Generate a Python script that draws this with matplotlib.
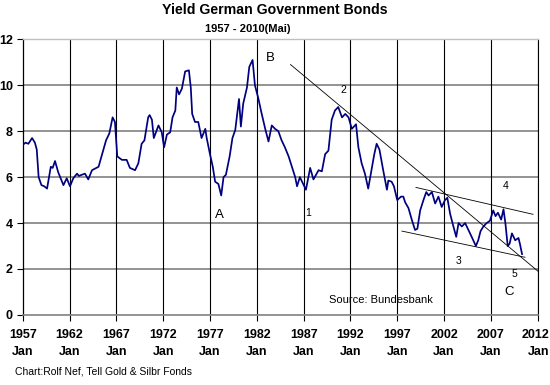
import matplotlib
matplotlib.use("Agg")
import matplotlib.pyplot as plt

plt.rcParams['font.family'] = ['Liberation Sans', 'DejaVu Sans']

# ---- data (decimal years, yield %) ----
years = [1957.0, 1957.3, 1957.6, 1958.0, 1958.3, 1958.5, 1958.7, 1959.0, 1959.3, 1959.6,
         1960.0, 1960.2, 1960.45, 1960.8, 1961.1, 1961.35, 1961.7, 1962.05, 1962.4, 1962.8,
         1963.0, 1963.3, 1963.65, 1964.0, 1964.4, 1965.1, 1965.45, 1965.9, 1966.25, 1966.6,
         1966.85, 1967.1, 1967.6, 1968.1, 1968.45, 1969.0, 1969.35, 1969.7, 1970.0, 1970.4,
         1970.55, 1970.8, 1971.0, 1971.5, 1971.85, 1972.1, 1972.4, 1972.75, 1973.0, 1973.3,
         1973.45, 1973.7, 1974.0, 1974.35, 1974.75, 1974.95, 1975.1, 1975.4, 1975.75, 1976.1,
         1976.5, 1976.65, 1977.0, 1977.3, 1977.55, 1977.9, 1978.2, 1978.45, 1978.7, 1979.1,
         1979.4, 1979.7, 1979.95, 1980.1, 1980.3, 1980.55, 1980.95, 1981.2, 1981.55, 1981.8,
         1982.15, 1982.5, 1982.9, 1983.25, 1983.6, 1983.95, 1984.3, 1984.65, 1985.0, 1985.4,
         1985.75, 1986.1, 1986.3, 1986.6, 1986.95, 1987.25, 1987.7, 1988.05, 1988.6, 1988.95,
         1989.3, 1989.65, 1990.0, 1990.35, 1990.7, 1991.1, 1991.45, 1991.8, 1992.15, 1992.6,
         1992.85, 1993.2, 1993.55, 1993.9, 1994.2, 1994.55, 1994.8, 1995.1, 1995.5, 1995.9,
         1996.05, 1996.4, 1996.65, 1997.0, 1997.4, 1997.65, 1997.85, 1998.2, 1998.55, 1998.9,
         1999.15, 1999.45, 1999.8, 2000.1, 2000.35, 2000.7, 2001.05, 2001.4, 2001.75, 2002.1,
         2002.35, 2002.65, 2003.0, 2003.3, 2003.55, 2003.9, 2004.25, 2004.6, 2004.95, 2005.4,
         2005.65, 2005.9, 2006.2, 2006.55, 2006.9, 2007.25, 2007.5, 2007.75, 2008.1, 2008.35,
         2008.55, 2008.8, 2009.0, 2009.25, 2009.6, 2009.95, 2010.1, 2010.33]
yields = [7.4, 7.5, 7.45, 7.7, 7.5, 7.2, 6.0, 5.65, 5.6, 5.5,
          6.45, 6.4, 6.7, 6.2, 5.9, 5.65, 5.95, 5.6, 5.95, 6.15,
          6.05, 6.1, 6.15, 5.9, 6.3, 6.45, 6.95, 7.6, 7.9, 8.6,
          8.4, 6.9, 6.75, 6.75, 6.4, 6.3, 6.6, 7.45, 7.6, 8.6,
          8.7, 8.5, 7.7, 8.25, 7.95, 7.3, 7.85, 7.95, 8.6, 8.9,
          9.9, 9.6, 9.85, 10.6, 10.65, 9.9, 8.75, 8.4, 8.4, 7.7,
          8.1, 7.7, 7.0, 6.45, 5.8, 5.7, 5.2, 6.0, 6.1, 6.9,
          7.7, 8.05, 8.9, 9.4, 8.2, 9.2, 9.9, 10.8, 11.1, 10.0,
          9.45, 8.8, 8.1, 7.55, 8.25, 8.1, 8.0, 7.6, 7.3, 6.9,
          6.45, 6.0, 5.6, 6.0, 5.7, 5.45, 6.4, 5.9, 6.3, 6.25,
          7.0, 7.15, 8.5, 8.9, 9.05, 8.6, 8.75, 8.6, 8.1, 8.3,
          7.3, 6.6, 6.15, 5.5, 6.2, 7.0, 7.45, 7.2, 6.3, 5.45,
          5.85, 5.8, 5.6, 5.0, 5.15, 5.15, 4.9, 4.65, 4.15, 3.7,
          3.75, 4.55, 5.0, 5.35, 5.2, 5.35, 4.85, 5.15, 4.7, 5.0,
          5.1, 4.4, 3.85, 3.4, 4.0, 3.85, 4.0, 3.7, 3.4, 3.0,
          3.25, 3.65, 3.85, 4.0, 4.1, 4.55, 4.3, 4.45, 4.15, 4.6,
          4.0, 3.0, 3.1, 3.55, 3.25, 3.35, 3.1, 2.65]

# trend lines (start/end in years and yield)
trend_main_x = [1985.6, 2012.1]
trend_main_y = [10.9, 1.88]
trend_upper_x = [1999.0, 2011.5]
trend_upper_y = [5.55, 4.38]
trend_lower_x = [1997.5, 2010.65]
trend_lower_y = [3.65, 2.51]

tick_years = list(range(1957, 2013, 5))
tick_labels = [f"{y}\nJan" for y in tick_years]
y_ticks = [0, 2, 4, 6, 8, 10, 12]

fig = plt.figure(figsize=(5.5, 3.85), dpi=100)
ax = fig.add_axes([0.0413, 0.182, 0.9363, 0.716])

ax.set_xlim(1957, 2012)
ax.set_ylim(0, 12)

# grid
for yv in y_ticks[1:]:
    ax.axhline(yv, color='#808080', lw=1.2, zorder=1)
for xv in tick_years[1:]:
    ax.axvline(xv, color='#000000', lw=0.8, zorder=1)

ax.plot(years, yields, color='#000080', lw=1.25, zorder=3)

for tx, ty in [(trend_main_x, trend_main_y), (trend_upper_x, trend_upper_y),
               (trend_lower_x, trend_lower_y)]:
    ax.plot(tx, ty, color='#000000', lw=0.6, zorder=4)

ax.spines['left'].set_color('#000000')
ax.spines['left'].set_linewidth(0.9)
ax.spines['bottom'].set_color('#808080')
ax.spines['bottom'].set_linewidth(1.2)
ax.spines['top'].set_color('#c0c0c0')
ax.spines['top'].set_linewidth(1.0)
ax.spines['right'].set_color('#000000')
ax.spines['right'].set_linewidth(0.8)

ax.set_xticks(tick_years)
ax.set_xticklabels(tick_labels[:-1] + [''], fontsize=9, fontweight='bold',
                   linespacing=1.6)
# last tick label placed so it stays inside the figure
ax.annotate(tick_labels[-1], xy=(tick_years[-1], 0), xycoords='data',
            xytext=(0.998, -10.0), textcoords=('figure fraction', 'offset points'),
            fontsize=9, fontweight='bold', linespacing=1.6, ha='right', va='top',
            annotation_clip=False)
ax.set_yticks(y_ticks)
ax.set_yticklabels([str(v) for v in y_ticks], fontsize=9, fontweight='bold')
ax.tick_params(axis='both', direction='out', length=4, width=0.8, color='#000000')
ax.tick_params(axis='x', pad=6)
ax.tick_params(axis='y', pad=3)

# annotations
ax.text(1983.45, 11.2, 'B', fontsize=9.5, ha='center', va='center')
ax.text(1978.0, 4.35, 'A', fontsize=9.5, ha='center', va='center')
ax.text(1987.5, 4.43, '1', fontsize=7.5, ha='center', va='center')
ax.text(1991.25, 9.78, '2', fontsize=7.5, ha='center', va='center')
ax.text(2003.6, 2.36, '3', fontsize=7.5, ha='center', va='center')
ax.text(2008.6, 5.62, '4', fontsize=7.5, ha='center', va='center')
ax.text(2009.5, 1.77, '5', fontsize=7.5, ha='center', va='center')
ax.text(2009.0, 1.01, 'C', fontsize=9.5, ha='center', va='center')
ax.text(1989.7, 0.65, 'Source: Bundesbank', fontsize=8, ha='left', va='center')

fig.text(0.5, 0.973, 'Yield German Government Bonds', fontsize=10.2,
         fontweight='bold', ha='center', va='center')
fig.text(0.450, 0.925, '1957 - 2010(Mai)', fontsize=8, fontweight='bold',
         ha='center', va='center')
fig.text(0.027, 0.034, 'Chart:Rolf Nef, Tell Gold & Silbr Fonds', fontsize=7.5,
         ha='left', va='center')

fig.savefig('out.png', dpi=100)
